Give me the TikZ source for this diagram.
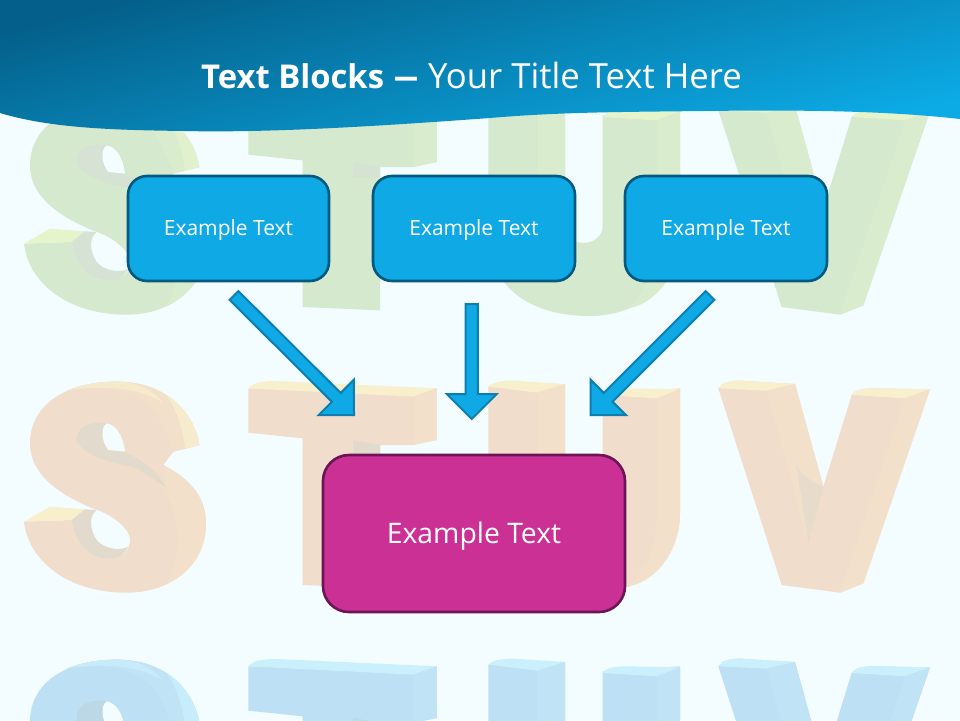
\documentclass[tikz,border=0pt]{standalone}
\usepackage{fontspec}
\setmainfont{Open Sans}
\usetikzlibrary{calc}
\definecolor{bgc}{HTML}{F3FCFE}
\definecolor{bannerA}{HTML}{04608A}
\definecolor{bannerB}{HTML}{0CABE6}
\definecolor{boxfill}{HTML}{0FA9E6}
\definecolor{boxline}{HTML}{05597E}
\definecolor{arrowline}{HTML}{0C7FAE}
\definecolor{magfill}{HTML}{CB3094}
\definecolor{magline}{HTML}{6B1456}
\definecolor{gface}{HTML}{D5E9CE}\definecolor{gside}{HTML}{D9ECCD}\definecolor{gtop}{HTML}{E6F4CC}\definecolor{gshade}{HTML}{D6E2D4}
\definecolor{oface}{HTML}{F0DDCB}\definecolor{oside}{HTML}{F3E0CA}\definecolor{otop}{HTML}{F8EFCD}\definecolor{oshade}{HTML}{E2DACC}
\definecolor{bface}{HTML}{BDE0F4}\definecolor{bside}{HTML}{C0E3F6}\definecolor{btop}{HTML}{CBF0FD}\definecolor{bshade}{HTML}{BCD8E6}
\newcommand{\smalllabel}[1]{\raisebox{-7.3pt}[0pt][0pt]{#1}}
\newcommand{\biglabel}[1]{\raisebox{-9.8pt}[0pt][0pt]{#1}}
\tikzset{
  smallbox/.style={draw=boxline,fill=boxfill,line width=2.6pt,rounded corners=19pt,text=white,font=\fontsize{21}{24}\selectfont,inner sep=0pt},
  bigbox/.style={draw=magline,fill=magfill,line width=2.6pt,rounded corners=26pt,text=white,font=\fontsize{28.3}{32}\selectfont,inner sep=0pt},
  titletext/.style={text=white,font=\fontsize{34.7}{40}\selectfont,inner sep=0pt},
  blockarrow/.style={draw=arrowline,fill=boxfill,line width=2pt,miter limit=10,
    to path={
      coordinate (hb) at ($(\tikztotarget)!25pt!(\tikztostart)$)
      ($(\tikztostart)!6.2pt!90:(\tikztotarget)$) --
      ($(hb)!6.2pt!90:(\tikztotarget)$) --
      ($(hb)!25pt!90:(\tikztotarget)$) --
      (\tikztotarget) --
      ($(hb)!25pt!-90:(\tikztotarget)$) --
      ($(hb)!6.2pt!-90:(\tikztotarget)$) --
      ($(\tikztostart)!6.2pt!-90:(\tikztotarget)$) -- cycle}},
}
\newcommand{\ghostrow}[5]{%
\begin{scope}[x=0.33333pt,y=-0.33333pt,shift={(0,#1)}]
  % S
  \fill[#2] (598,225) .. controls (585,140) and (510,35) .. (350,35)
     .. controls (190,35) and (90,110) .. (90,220)
     .. controls (90,320) and (190,380) .. (290,420)
     .. controls (345,440) and (392,480) .. (390,515)
     .. controls (388,555) and (345,568) .. (315,565)
     .. controls (260,560) and (222,510) .. (215,450)
     -- (72,455)
     .. controls (85,570) and (200,668) .. (380,668)
     .. controls (520,668) and (618,580) .. (618,460)
     .. controls (618,370) and (555,320) .. (490,285)
     -- (520,245) -- cycle;
  \fill[#3] (598,225) .. controls (585,140) and (510,35) .. (350,35)
     .. controls (300,35) and (250,42) .. (200,62)
     .. controls (330,40) and (440,70) .. (480,150)
     .. controls (500,190) and (510,220) .. (520,245) -- cycle;
  \fill[#4!75!#2] (598,225) .. controls (590,170) and (555,110) .. (500,75)
     .. controls (530,120) and (550,180) .. (555,236) -- cycle;
  \fill[#4!70!#2] (350,35) .. controls (300,35) and (250,42) .. (200,62)
     .. controls (300,45) and (420,50) .. (490,100)
     .. controls (460,60) and (410,35) .. (350,35) -- cycle;
  \fill[#4] (72,455) -- (215,450) -- (255,418) -- (150,410) -- cycle;
  \fill[#3] (490,285) .. controls (555,320) and (618,370) .. (618,460)
     .. controls (618,540) and (575,610) .. (500,640)
     .. controls (540,580) and (550,440) .. (490,360) -- cycle;
  \fill[#5] (320,160) .. controls (260,150) and (225,180) .. (230,215)
     .. controls (260,260) and (350,285) .. (400,290)
     .. controls (440,310) and (480,340) .. (498,352)
     .. controls (475,310) and (440,280) .. (375,245) -- cycle;
  \fill[bgc] (320,160) .. controls (300,175) and (305,215) .. (325,240)
     -- (375,245) .. controls (370,200) and (350,165) .. (320,160) -- cycle;
  \fill[#5] (215,450) .. controls (222,510) and (260,560) .. (315,565)
     .. controls (345,568) and (368,562) .. (385,530)
     .. controls (360,545) and (310,535) .. (290,510)
     .. controls (270,480) and (265,440) .. (290,420) -- (255,418) -- cycle;
  \fill[bgc] (290,420) .. controls (345,440) and (392,480) .. (390,515)
     .. controls (375,540) and (320,535) .. (298,510)
     .. controls (275,480) and (270,445) .. (290,420) -- cycle;
  % T
  \fill[#2] (745,55) -- (1310,55) -- (1310,210) -- (1240,225) -- (1140,225) -- (1140,655) -- (908,645) -- (908,205) -- (745,188) -- cycle;
  \fill[#4] (745,55) .. controls (760,35) and (800,33) .. (830,33) -- (1310,55) -- (1240,80) -- cycle;
  \fill[#3] (1240,80) -- (1310,55) -- (1310,210) -- (1240,225) -- cycle;
  \fill[#5] (1060,210) -- (1140,225) -- (1140,255) -- (1060,255) -- cycle;
  % U
  \begin{scope}[shift={(1440,0)}]
  \fill[#2] (25,50) -- (255,42) -- (255,400) .. controls (255,470) and (368,470) .. (368,400)
     -- (368,70) -- (600,55) -- (600,430)
     .. controls (600,570) and (480,672) .. (330,672)
     .. controls (130,672) and (25,570) .. (25,420) -- cycle;
  \fill[#4] (25,50) .. controls (40,35) and (70,32) .. (100,32) -- (255,42) -- (172,68) -- cycle;
  \fill[#4] (368,75) .. controls (380,58) and (410,55) .. (440,55) -- (600,58) -- (530,85) -- cycle;
  \fill[#3] (172,68) -- (255,42) -- (255,300) -- (172,300) -- cycle;
  \fill[#3] (530,85) -- (600,58) -- (600,430)
     .. controls (600,550) and (520,640) .. (440,650) .. controls (500,600) and (530,520) .. (530,430) -- cycle;
  % V
  \fill[#2] (715,55) .. controls (725,38) and (750,32) .. (780,32) -- (945,42) -- (1030,350) -- (1115,75)
     .. controls (1125,60) and (1150,55) .. (1180,55) -- (1350,58) -- (1150,640) -- (1080,668) -- (905,645) -- cycle;
  \fill[#4] (715,55) .. controls (725,38) and (750,32) .. (780,32) -- (945,42) -- (860,62) -- cycle;
  \fill[#4] (1115,75) .. controls (1125,60) and (1150,55) .. (1180,55) -- (1350,58) -- (1275,85) -- cycle;
  \fill[#3] (860,62) -- (945,42) -- (1030,350) -- (985,520) -- cycle;
  \fill[#3] (1275,85) -- (1350,58) -- (1150,640) -- (1080,668) -- cycle;
  \fill[#5!70!#3] (950,290) .. controls (975,325) and (1005,340) .. (1030,350) -- (985,520) -- cycle;
  \end{scope}
\end{scope}}
\begin{document}
\begin{tikzpicture}[x=1pt,y=-1pt]
  \useasboundingbox (0,0) rectangle (960,720);
  \fill[bgc] (0,0) rectangle (960,720);
  \begin{scope}
    \clip (0,0) rectangle (960,720);
    \ghostrow{276}{gface}{gside}{gtop}{gshade}
    \ghostrow{1110}{oface}{oside}{otop}{oshade}
    \ghostrow{1944}{bface}{bside}{btop}{bshade}
  \end{scope}
  \shade[top color=bannerA,bottom color=bannerB,shading angle=14]
    (0,0) -- (960,0) -- (960,119)
    .. controls (880,110) and (790,110) .. (704,111)
    .. controls (620,112) and (560,112) .. (490,118)
    .. controls (380,126) and (270,133) .. (184,131)
    .. controls (110,130) and (50,128) .. (0,113) -- cycle;
  \node[titletext] (title) at (471.5,75) {{\fontsize{32.8}{40}\selectfont\bfseries Text Blocks} \scalebox{1.5}[1]{\bfseries --} Your Title Text Here};
  \node[smallbox,minimum width=201pt,minimum height=105pt] (b1) at (228.5,228.5) {\smalllabel{Example Text}};
  \node[smallbox,minimum width=202pt,minimum height=105pt] (b2) at (474,228.5) {\smalllabel{Example Text}};
  \node[smallbox,minimum width=202pt,minimum height=105pt] (b3) at (726,228.5) {\smalllabel{Example Text}};
  \node[bigbox,minimum width=302pt,minimum height=157pt] (m) at (474,533.5) {\biglabel{Example Text}};
  \coordinate (s1) at (234,295.5);
  \coordinate (t1) at (354,415);
  \coordinate (s2) at (471.7,304);
  \coordinate (t2) at (471.7,419);
  \coordinate (s3) at (710,295.5);
  \coordinate (t3) at (590.5,415);
  \path[blockarrow] (s1) to (t1);
  \path[blockarrow] (s2) to (t2);
  \path[blockarrow] (s3) to (t3);
\end{tikzpicture}
\end{document}
